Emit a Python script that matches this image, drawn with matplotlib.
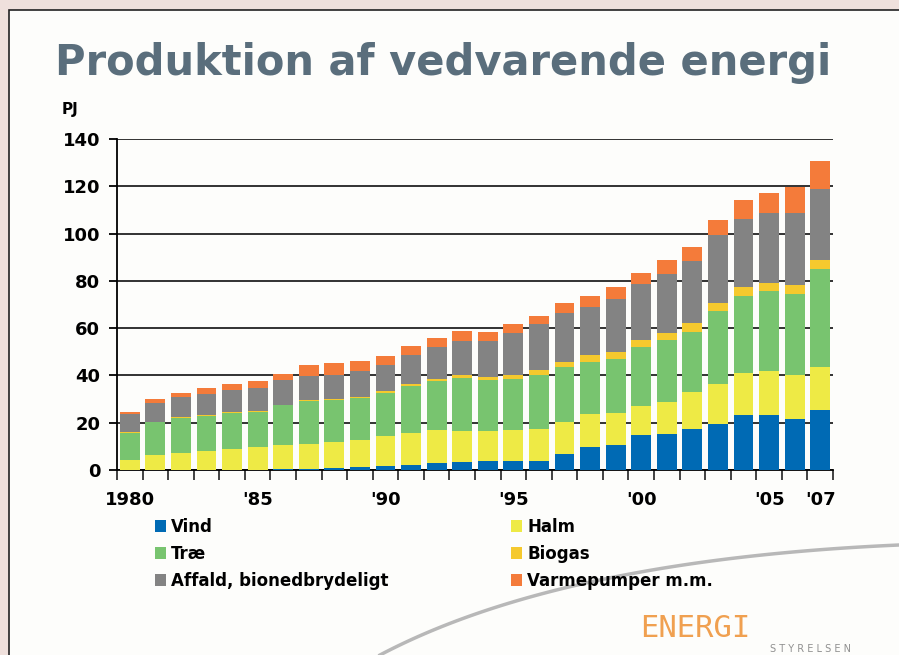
import numpy as np
import matplotlib
matplotlib.use("Agg")
import matplotlib.pyplot as plt
from matplotlib.lines import Line2D
from matplotlib.patches import Rectangle

# data (PJ)
years = list(range(1980, 2008))
vind = [0, 0, 0, 0, 0, 0, 0.3, 0.3, 1.0, 1.4, 1.8, 2.3, 3.1, 3.5, 3.9, 3.9, 3.9,
        6.9, 9.9, 10.7, 15.0, 15.4, 17.5, 19.6, 23.4, 23.4, 21.7, 25.5]
halm = [4.2, 6.3, 7.3, 8.2, 9.0, 9.9, 10.3, 10.8, 11.0, 11.3, 12.7, 13.5, 14.0, 13.1, 12.7, 13.2, 13.6,
        13.6, 13.9, 13.6, 12.2, 13.5, 15.6, 16.9, 17.8, 18.6, 18.6, 18.2]
trae = [11.6, 14.0, 14.8, 14.8, 15.1, 14.6, 16.9, 18.1, 17.8, 17.9, 18.2, 19.9, 20.7, 22.5, 21.6, 21.5, 22.8,
        23.2, 22.0, 22.8, 25.0, 26.2, 25.4, 30.9, 32.6, 33.5, 34.3, 41.5]
biogas = [0.4, 0.2, 0.5, 0.4, 0.6, 0.5, 0.2, 0.2, 0.4, 0.4, 0.9, 0.8, 0.8, 1.2, 1.3, 1.7, 2.2,
          2.1, 3.0, 3.0, 2.9, 3.0, 3.8, 3.4, 3.4, 3.8, 3.8, 3.8]
affald = [7.6, 8.0, 8.3, 8.9, 9.3, 9.8, 10.5, 10.2, 10.0, 10.9, 10.8, 12.3, 13.6, 14.4, 15.2, 17.8, 19.4,
          20.8, 20.3, 22.4, 23.7, 25.0, 26.3, 28.4, 29.1, 29.2, 30.1, 30.0]
varme = [0.7, 1.5, 1.7, 2.5, 2.5, 2.9, 2.6, 4.6, 5.1, 4.4, 4.0, 3.8, 3.8, 4.3, 3.8, 3.8, 3.4,
         4.2, 4.7, 4.7, 4.7, 5.9, 5.9, 6.7, 8.1, 8.8, 11.0, 11.5]

series = ["Vind", "Halm", "Træ", "Biogas", "Affald, bionedbrydeligt", "Varmepumper m.m."]
colors = ["#006ab4", "#eeea45", "#78c46f", "#f5c92e", "#838383", "#f47b3a"]
values = [vind, halm, trae, biogas, affald, varme]

tick_years = [1980, 1985, 1990, 1995, 2000, 2005, 2007]
tick_labels = ["1980", "'85", "'90", "'95", "'00", "'05", "'07"]

fig = plt.figure(figsize=(8.99, 6.55), dpi=100)
fig.patch.set_facecolor("#efe0dc")
W, H = 899, 655

# white slide area with dark border (runs off the right and bottom edges)
fig.add_artist(Rectangle((9 / W, -0.1), 1.2, 1.1 - 10 / H, transform=fig.transFigure,
                         facecolor="#fdfdfb", edgecolor="#222222", linewidth=1.2, zorder=0))

# decorative arc at bottom
t = np.linspace(0, 1, 100)
px = (1 - t) ** 2 * 380 + 2 * (1 - t) * t * 560 + t ** 2 * 899
py = (1 - t) ** 2 * 655 + 2 * (1 - t) * t * 560 + t ** 2 * 545
fig.add_artist(Line2D(px / W, 1 - py / H, transform=fig.transFigure,
                      color="#b8b8b8", linewidth=2.5, zorder=0.5))

fig.text(55 / W, 1 - 75 / H, "Produktion af vedvarende energi", fontsize=30,
         fontweight="heavy", color="#5a6e7c", ha="left", va="baseline")
fig.text(62 / W, 1 - 114 / H, "PJ", fontsize=11, fontweight="bold", ha="left", va="baseline")

ax = fig.add_axes([117 / W, 1 - 470 / H, (833 - 117) / W, (470 - 139) / H])
ax.set_facecolor("none")
x = np.arange(len(years))
bottom = np.zeros(len(years))
for name, vals, c in zip(series, values, colors):
    vals = np.array(vals)
    ax.bar(x, vals, width=0.78, bottom=bottom, color=c, label=name, zorder=3)
    bottom += vals

ax.set_xlim(-0.5, len(years) - 0.5)
ax.set_ylim(0, 140)
ax.set_yticks(range(0, 141, 20))
ax.grid(axis="y", color="#222222", linewidth=1.3, zorder=1)
for s in ["top", "right"]:
    ax.spines[s].set_visible(False)
ax.spines["left"].set_linewidth(1.3)
ax.spines["bottom"].set_linewidth(1.3)
ax.tick_params(axis="y", length=6, width=1.3, labelsize=13, pad=6)
for lab in ax.get_yticklabels():
    lab.set_fontweight("bold")

ax.set_xticks([years.index(y) for y in tick_years])
ax.set_xticklabels(tick_labels, fontsize=13, fontweight="bold")
ax.set_xticks(np.arange(-0.5, len(years)), minor=True)
ax.tick_params(axis="x", which="major", length=0, pad=15)
ax.tick_params(axis="x", which="minor", length=7, width=1.3, color="#333333")

# legend, two columns
handles, labels = ax.get_legend_handles_labels()
order = [0, 2, 4, 1, 3, 5]
fig.legend([handles[i] for i in order], [labels[i] for i in order], ncol=2,
           loc="upper left", bbox_to_anchor=(148 / W, 1 - 511 / H), frameon=False,
           prop={"weight": "bold", "size": 12}, handlelength=0.7, handleheight=0.7,
           handletextpad=0.3, columnspacing=7.3, labelspacing=0.55, borderaxespad=0)

# agency logo
fig.text(640 / W, 1 - 637 / H, "ENERGI", fontsize=22, color="#f0a050", ha="left",
         va="baseline", fontfamily="DejaVu Sans Mono")
fig.text(770 / W, 1 - 652 / H, "S T Y R E L S E N", fontsize=7, color="#909090",
         ha="left", va="baseline")

fig.savefig("out.png", dpi=100, facecolor=fig.get_facecolor())
